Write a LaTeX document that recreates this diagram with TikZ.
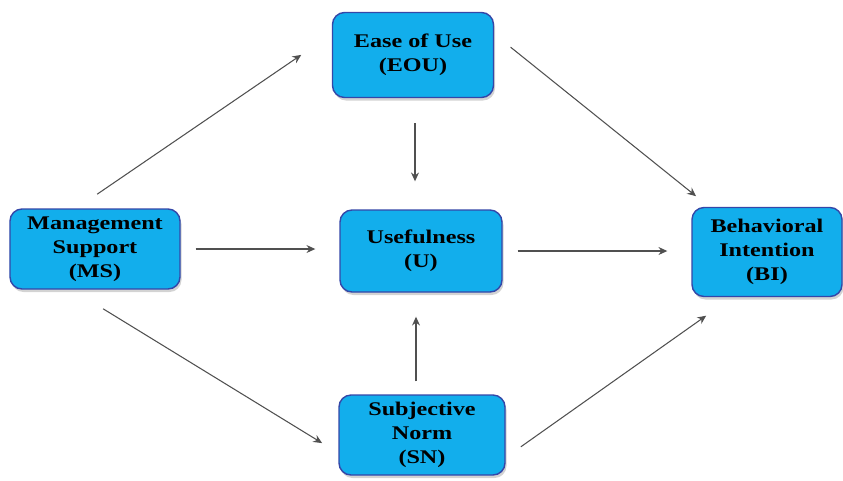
\documentclass[tikz,border=0pt]{standalone}
\usepackage{fontspec}
\setmainfont{Liberation Serif}[FakeStretch=1.25]
\usepackage{tikz}
\usetikzlibrary{arrows.meta, shadows, positioning}
\definecolor{boxblue}{HTML}{12AEEC}
\definecolor{boxedge}{HTML}{3447A8}
\definecolor{linkgray}{HTML}{505050}

\begin{document}
\begin{tikzpicture}[
    box/.style={draw=boxedge, fill=boxblue, line width=0.8pt, rounded corners=0.24cm,
      align=center, inner sep=2pt, font=\fontsize{11}{13.6}\selectfont\bfseries,
      drop shadow={opacity=0.35, shadow xshift=0.03cm, shadow yshift=-0.06cm}},
    link/.style={draw=linkgray, line width=0.6pt, -{Stealth[length=5pt,width=4.5pt]}}
  ]
  \useasboundingbox (0,0) rectangle (16.86,-9.6);
  % Konstrukte
  \node[box, minimum width=3.22cm, minimum height=1.70cm] (eou) at (8.26,-1.10) {Ease of Use\\(EOU)};
  \node[box, minimum width=3.40cm, minimum height=1.60cm] (ms) at (1.90,-4.98) {Management\\Support\\(MS)};
  \node[box, minimum width=3.24cm, minimum height=1.64cm] (u) at (8.42,-5.02) {Usefulness\\(U)};
  \node[box, minimum width=3.00cm, minimum height=1.78cm] (bi) at (15.34,-5.04) {Behavioral\\Intention\\(BI)};
  \node[box, minimum width=3.32cm, minimum height=1.60cm] (sn) at (8.44,-8.70) {Subjective\\Norm\\(SN)};

  % Pfade
  \draw[link, shorten <=0.50cm, shorten >=0.74cm] ([xshift=-0.37cm]ms.north) -- ([yshift=0.42cm]eou.west);
  \draw[link, shorten <=0.42cm, shorten >=0.34cm] ([yshift=0.42cm]eou.east) -- ([xshift=0.36cm]bi.north west);
  \draw[link, shorten <=0.50cm, shorten >=0.56cm] ([xshift=0.04cm]eou.south) -- ([xshift=0.04cm]eou.south |- u.north);
  \draw[link, shorten <=0.30cm, shorten >=0.48cm] (ms.east) -- (ms.east -| u.west);
  \draw[link, shorten <=0.30cm, shorten >=0.48cm] (u.east) -- (u.east -| bi.west);
  \draw[link, shorten <=0.26cm, shorten >=0.48cm] ([xshift=-0.12cm]sn.north) -- ([xshift=-0.12cm]sn.north |- u.south);
  \draw[link, shorten <=0.73cm, shorten >=0.38cm] ([xshift=-0.46cm]ms.south) -- ([yshift=-0.36cm]sn.west);
  \draw[link, shorten <=0.37cm, shorten >=0.64cm] ([yshift=-0.45cm]sn.east) -- ([xshift=0.82cm]bi.south west);
\end{tikzpicture}
\end{document}
